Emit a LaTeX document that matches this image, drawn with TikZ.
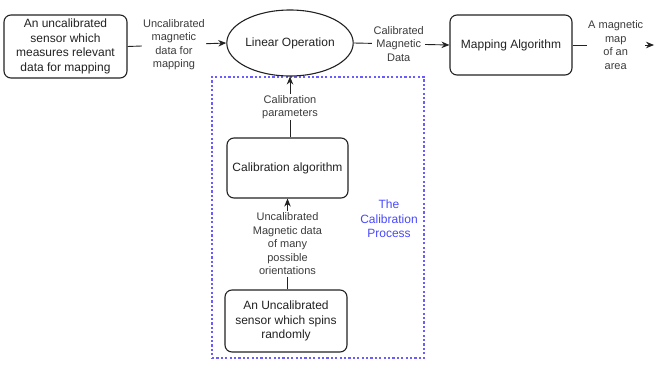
\documentclass[tikz,border=0pt]{standalone}
\usepackage{xcolor}
\usepackage{fontspec}
\setmainfont{Liberation Sans}
\usetikzlibrary{shapes.geometric,arrows.meta}

\definecolor{ink}{HTML}{222222}
\definecolor{softink}{HTML}{3C3C3C}
\definecolor{procblue}{HTML}{4848FF}
\definecolor{framblue}{HTML}{6A5CFF}

\begin{document}
\begin{tikzpicture}[x=1pt,y=-1pt,
    blk/.style={draw=ink, line width=1.1pt, rounded corners=7pt, align=center,
        inner sep=0pt, text=ink, font=\fontsize{12}{14.5}\selectfont},
    oval/.style={draw=ink, line width=1.1pt, ellipse, inner sep=0pt,
        text=ink, font=\fontsize{12}{14.5}\selectfont},
    lbl/.style={fill=white, align=center, inner sep=1.5pt, text=softink,
        font=\fontsize{11}{13.5}\selectfont},
    conn/.style={draw=ink, line width=0.9pt},
    arr/.style={conn, -{Stealth[length=8pt,width=6.5pt]}},
    frame/.style={draw=framblue, line width=1.2pt, dash pattern=on 2.2pt off 2.2pt,
        minimum width=212pt, minimum height=281pt, inner sep=0pt}]
    \useasboundingbox (0,0) rectangle (655,364);

    % Calibration process frame
    \node[frame] (proc) at (318,217.5) {};
    \node[text=procblue, align=center, font=\fontsize{12}{14.5}\selectfont]
        (proclbl) at (389,219) {The\\Calibration\\Process};

    % Main chain
    \node[blk, minimum width=123pt, minimum height=63pt] (sensor) at (65.5,46.5)
        {An uncalibrated\\sensor which\\measures relevant\\data for mapping};
    \node[oval, minimum width=124pt, minimum height=66pt] (linop) at (290,43)
        {Linear Operation};
    \node[blk, minimum width=122pt, minimum height=60pt] (mapalg) at (511,45)
        {Mapping Algorithm};
    \coordinate (mapout) at (654,45);

    % Calibration chain
    \node[blk, minimum width=121pt, minimum height=60pt] (calalg) at (287.5,168)
        {Calibration algorithm};
    \node[blk, minimum width=122pt, minimum height=62pt] (spinner) at (286,321)
        {An Uncalibrated\\sensor which spins\\randomly};

    % Connectors
    \draw[arr] (sensor.east) -- (linop.west)
        node[lbl, pos=0.47] (rawdata) {Uncalibrated\\magnetic\\data for\\mapping};
    \draw[arr] (linop.east) -- (mapalg.west)
        node[lbl, pos=0.47] (caldata) {Calibrated\\Magnetic\\Data};
    \draw[arr] (mapalg.east) -- (mapout)
        node[lbl, pos=0.53] (magmap) {A magnetic\\map\\of an\\area};
    \draw[arr] (calalg.north -| linop.south) -- (linop.south)
        node[lbl, pos=0.5] (params) {Calibration\\parameters};
    \draw[arr] (spinner.north -| calalg.south) -- (calalg.south)
        node[lbl, pos=0.5] (spindata) {Uncalibrated\\Magnetic data\\of many\\possible\\orientations};
\end{tikzpicture}
\end{document}
